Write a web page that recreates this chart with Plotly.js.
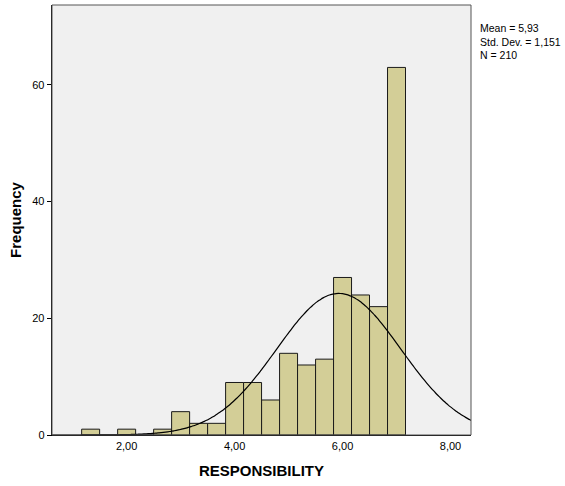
<!DOCTYPE html>
<html>
<head>
<meta charset="utf-8">
<script src="https://cdn.plot.ly/plotly-3.0.1.min.js"></script>
<style>
html,body{margin:0;padding:0;background:#fff;}
#chart{width:565px;height:486px;}
</style>
</head>
<body>
<div id="chart"></div>
<script>
// Histogram bins (width 1/3) and frequencies
const binCenters = [1.333, 1.667, 2.0, 2.333, 2.667, 3.0, 3.333, 3.667, 4.0, 4.333, 4.667, 5.0, 5.333, 5.667, 6.0, 6.333, 6.667, 7.0];
const frequencies = [1, 0, 1, 0, 1, 4, 2, 2, 9, 9, 6, 14, 12, 13, 27, 24, 22, 63];
const binWidth = 1/3;

// Summary statistics (as printed)
const meanVal = 5.93;
const sdVal = 1.151;
const nVal = 210;
const statLines = ["Mean = 5,93", "Std. Dev. = 1,151", "N = 210"];

const xTickVals = [2, 4, 6, 8];
const yTickVals = [0, 20, 40, 60];

// Fitted normal curve scaled to counts (as SPSS draws it)
const curveX = [], curveY = [];
for (let x = 0.6; x <= 8.4001; x += 0.04) {
  curveX.push(x);
  const z = (x - meanVal) / sdVal;
  curveY.push(nVal * binWidth * Math.exp(-0.5 * z * z) / (sdVal * Math.sqrt(2 * Math.PI)));
}

const font = "Liberation Sans, Arial, sans-serif";

const traces = [
  {
    type: "bar",
    x: binCenters,
    y: frequencies,
    width: binWidth,
    marker: {color: "#d3ce97", line: {color: "#1a1a1a", width: 1}},
    hoverinfo: "x+y"
  },
  {
    type: "scatter",
    mode: "lines",
    x: curveX,
    y: curveY,
    line: {color: "#000", width: 1.2, shape: "spline"},
    hoverinfo: "skip"
  }
];

const layout = {
  width: 565, height: 486,
  margin: {l: 52, r: 94, t: 5, b: 51},
  paper_bgcolor: "#fff",
  plot_bgcolor: "#f0f0f0",
  showlegend: false,
  separators: ", ",
  bargap: 0,
  xaxis: {
    range: [0.617, 8.38],
    tickvals: xTickVals,
    tickformat: ".2f",
    ticks: "",
    showgrid: false, zeroline: false,
    showline: true, linecolor: "#000", linewidth: 1.3,
    tickfont: {family: font, size: 11, color: "#000"},
    title: {text: "RESPONSIBILITY", font: {family: font, size: 15, color: "#000", weight: "bold"}, standoff: 15}
  },
  yaxis: {
    range: [0, 73.7],
    tickvals: yTickVals,
    ticks: "outside", ticklen: 4, tickcolor: "#000", tickwidth: 1,
    showgrid: false, zeroline: false,
    showline: true, linecolor: "#000", linewidth: 1.3,
    tickfont: {family: font, size: 11, color: "#000"},
    title: {text: "Frequency", font: {family: font, size: 15, color: "#000", weight: "bold"}, standoff: 7}
  },
  shapes: [
    {type: "rect", xref: "paper", yref: "paper", x0: 0, x1: 1, y0: 0, y1: 1,
     line: {color: "#555", width: 1}, fillcolor: "rgba(0,0,0,0)", layer: "above"}
  ],
  annotations: [{
    text: statLines.join("<br>"),
    xref: "paper", yref: "paper",
    x: 1.019, y: 0.963,
    xanchor: "left", yanchor: "top", align: "left",
    showarrow: false, borderpad: 0,
    font: {family: font, size: 10.5, color: "#000"}
  }]
};

Plotly.newPlot("chart", traces, layout, {displayModeBar: false, staticPlot: true});
</script>
</body>
</html>
